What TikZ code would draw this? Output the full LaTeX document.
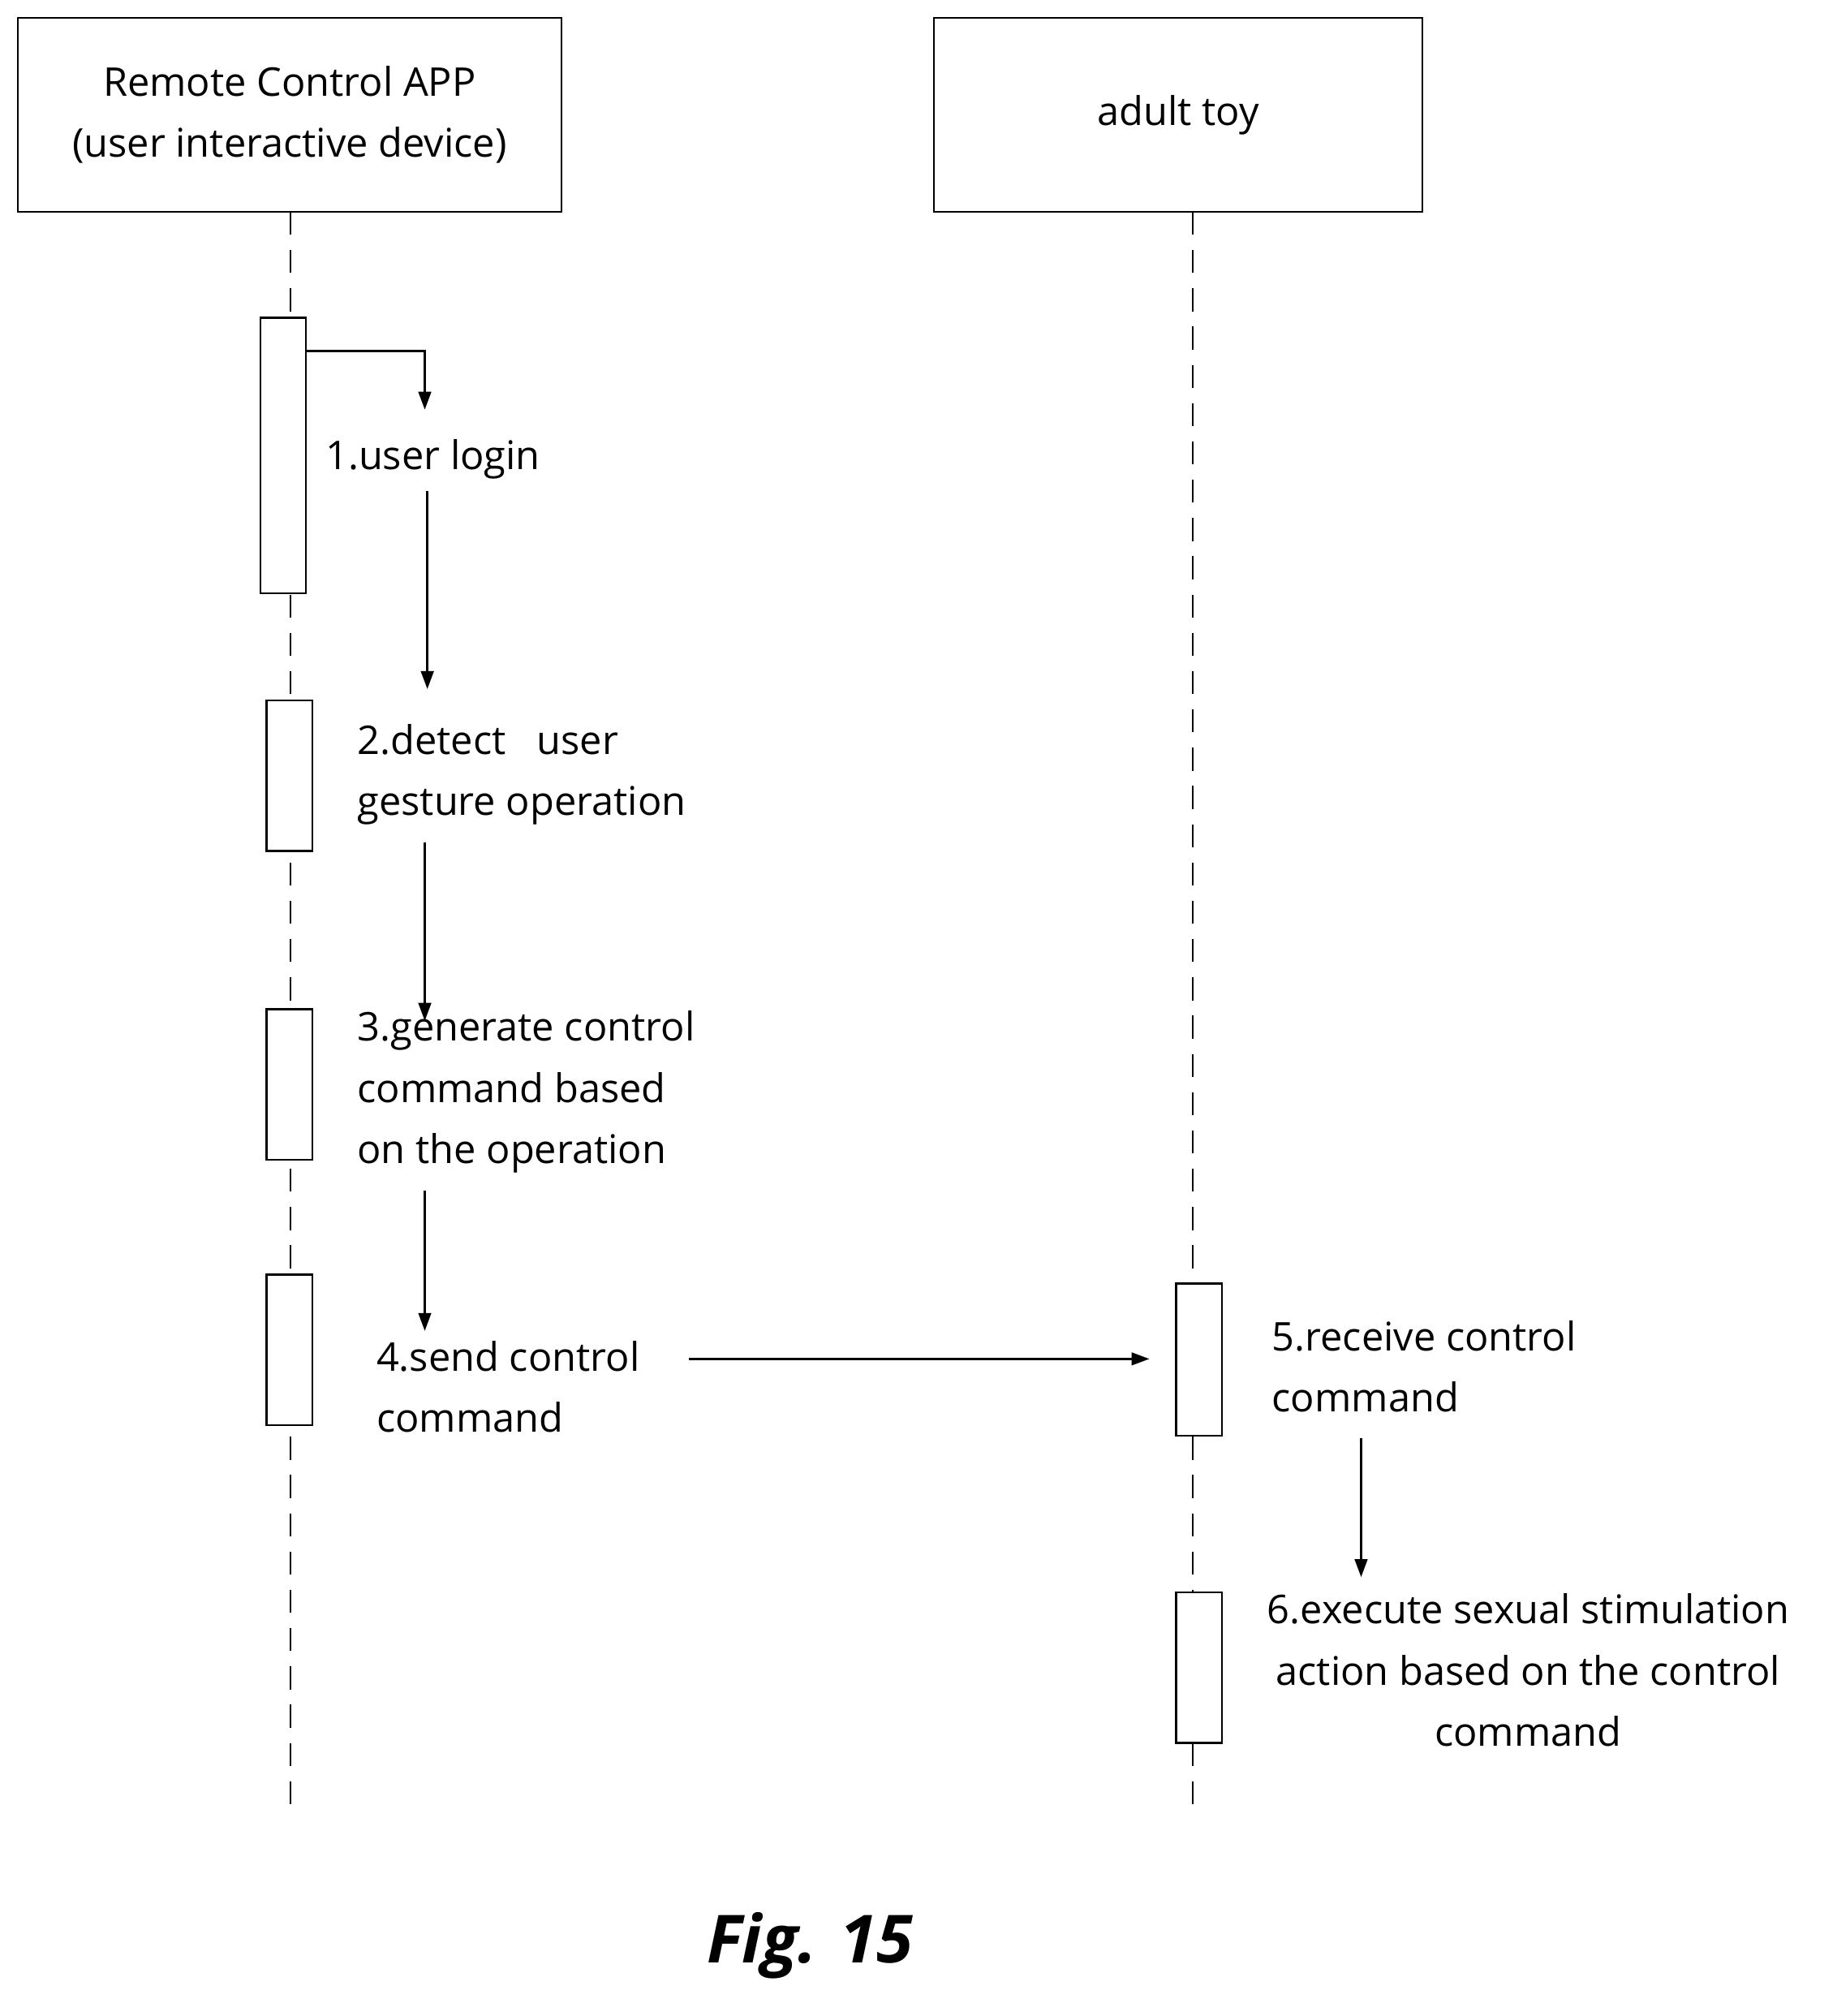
\documentclass[tikz,border=0pt]{standalone}
\usepackage{fontspec}
\setmainfont{Open Sans}
\usetikzlibrary{arrows.meta}
\begin{document}
\begin{tikzpicture}[x=1pt,y=-1pt,
  box/.style={draw,line width=1.5pt,inner sep=0pt},
  life/.style={line width=1.3pt,dash pattern=on 18pt off 12pt},
  act/.style={draw,fill=white,line width=1.5pt},
  msg/.style={line width=1.5pt,-{Triangle[length=14pt,width=10pt]}},
  lbl/.style={font=\fontsize{31}{48}\selectfont,anchor=west,align=left,inner sep=0pt}]
\useasboundingbox (0,0) rectangle (1440,1580);
\node[box,minimum width=426pt,minimum height=152pt,align=center,font=\fontsize{31}{48}\selectfont] (app) at (227,90) {Remote Control APP\\(user interactive device)};
\node[box,minimum width=383pt,minimum height=152pt,font=\fontsize{31}{48}\selectfont] (toy) at (923.5,90) {adult toy};
\coordinate (l1) at (228,1425); \coordinate (l2) at (935,1425);
\draw[life] (228,166) -- (l1);
\draw[life] (935,166) -- (l2);
\draw[act] (204,249) rectangle (240,465);
\draw[act] (209,549) rectangle (245,667);
\draw[act] (209,791) rectangle (245,909);
\draw[act] (209,999) rectangle (245,1117);
\draw[act] (922,1006) rectangle (958,1125);
\draw[act] (922,1248) rectangle (958,1366);
\node[lbl] (t1) at (255,360) {1.user login};
\node[lbl] (t2) at (280,607) {2.detect\ \ \ user\\gesture operation};
\node[lbl] (t3) at (280,856) {3.generate control\\command based\\on the operation};
\node[lbl] (t4) at (295,1087) {4.send control\\command};
\node[lbl] (t5) at (997,1071) {5.receive control\\command};
\node[lbl,anchor=center,align=center] (t6) at (1198,1309) {6.execute sexual stimulation\\action based on the control\\command};
\coordinate (s1) at (240,275); \coordinate (e1) at (333,321);
\draw[msg] (s1) -| (e1);
\coordinate (s2) at (335,385); \coordinate (e2) at (335,540);
\draw[msg] (s2) -- (e2);
\coordinate (s3) at (333,660); \coordinate (e3) at (333,800);
\draw[msg] (s3) -- (e3);
\coordinate (s4) at (333,933); \coordinate (e4) at (333,1043);
\draw[msg] (s4) -- (e4);
\coordinate (s5) at (540,1065); \coordinate (e5) at (901,1065);
\draw[msg] (s5) -- (e5);
\coordinate (s6) at (1067,1127); \coordinate (e6) at (1067,1236);
\draw[msg] (s6) -- (e6);
\node[font=\fontsize{52}{60}\selectfont\bfseries\itshape] (fig) at (635,1525) {Fig. 15};
\end{tikzpicture}
\end{document}
